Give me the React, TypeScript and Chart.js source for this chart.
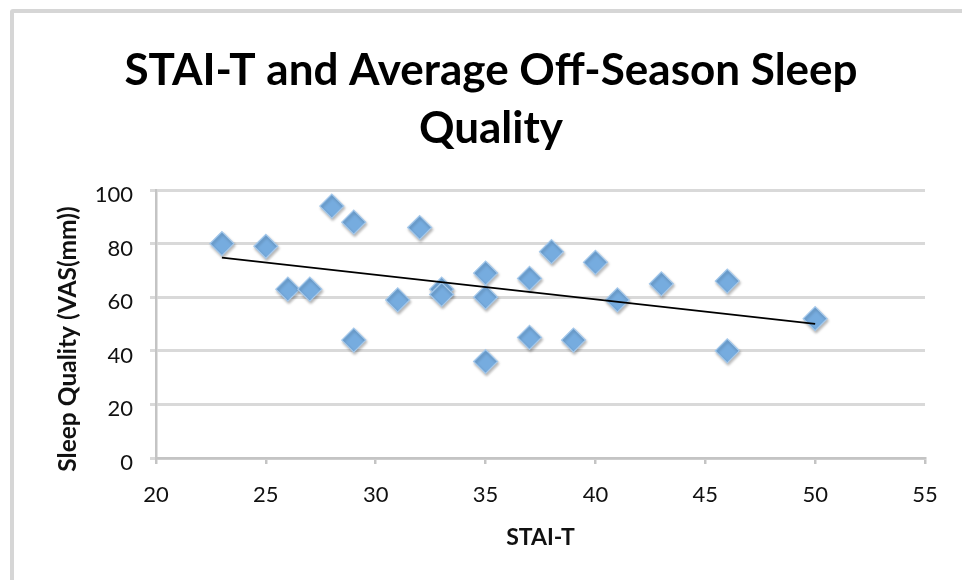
import { useEffect, useRef } from "react";
import { Chart, registerables } from "chart.js";

Chart.register(...registerables);

// STAI-T score for each athlete and their average off-season sleep quality (VAS, mm)
const staiT = [23, 25, 26, 27, 28, 29, 29, 31, 32, 33, 33, 35, 35, 35, 37, 37, 38, 39, 40, 41, 43, 46, 46, 50];
const sleepQuality = [80, 79, 63, 63, 94, 88, 44, 59, 86, 63, 61, 69, 60, 36, 67, 45, 77, 44, 73, 59, 65, 66, 40, 52];

const titleLines = ["STAI-T and Average Off-Season Sleep", "Quality"];
const xAxisTitle = "STAI-T";
const yAxisTitle = "Sleep Quality (VAS(mm))";

const xRange = { min: 20, max: 55, step: 5 };
const yRange = { min: 0, max: 100, step: 20 };

const FONT = 'Lato, "Noto Sans", "DejaVu Sans", sans-serif';

// Least-squares linear trend over the observed range of x
function linearTrend(xs: number[], ys: number[]) {
  const n = xs.length;
  const mx = xs.reduce((a, b) => a + b, 0) / n;
  const my = ys.reduce((a, b) => a + b, 0) / n;
  let sxy = 0;
  let sxx = 0;
  for (let i = 0; i < n; i++) {
    sxy += (xs[i] - mx) * (ys[i] - my);
    sxx += (xs[i] - mx) * (xs[i] - mx);
  }
  const slope = sxy / sxx;
  const intercept = my - slope * mx;
  const x0 = Math.min(...xs);
  const x1 = Math.max(...xs);
  return [
    { x: x0, y: intercept + slope * x0 },
    { x: x1, y: intercept + slope * x1 },
  ];
}

// Two-line heading centred over the whole chart frame
const headingPlugin = {
  id: "heading",
  afterDraw(chart: any) {
    const { ctx } = chart;
    ctx.save();
    ctx.font = `bold 44px ${FONT}`;
    ctx.fillStyle = "#000";
    ctx.textAlign = "center";
    ctx.textBaseline = "alphabetic";
    const cx = 491;
    titleLines.forEach((line, i) => ctx.fillText(line, cx, 85 + i * 58));
    ctx.restore();
  },
};

// Rotated y-axis caption, drawn beside the tick labels
const yTitlePlugin = {
  id: "yTitle",
  afterDraw(chart: any) {
    const { ctx, chartArea } = chart;
    ctx.save();
    ctx.font = `bold 24.5px ${FONT}`;
    ctx.fillStyle = "#111";
    ctx.textAlign = "center";
    ctx.textBaseline = "middle";
    ctx.translate(chartArea.left - 88, (chartArea.top + chartArea.bottom) / 2 + 15);
    ctx.rotate(-Math.PI / 2);
    ctx.fillText(yAxisTitle, 0, 0);
    ctx.restore();
  },
};

// Soft drop shadow under the diamond markers
const markerShadowPlugin = {
  id: "markerShadow",
  beforeDatasetDraw(chart: any, args: any) {
    if (args.meta.type !== "scatter") return;
    const ctx = chart.ctx;
    ctx.save();
    ctx.shadowColor = "rgba(0,0,0,0.28)";
    ctx.shadowBlur = 3;
    ctx.shadowOffsetX = 1;
    ctx.shadowOffsetY = 2;
  },
  afterDatasetDraw(chart: any, args: any) {
    if (args.meta.type !== "scatter") return;
    chart.ctx.restore();
  },
};

export default function App() {
  const canvasRef = useRef<HTMLCanvasElement | null>(null);

  useEffect(() => {
    const canvas = canvasRef.current;
    if (!canvas) return;
    const points = staiT.map((x, i) => ({ x, y: sleepQuality[i] }));
    const trend = linearTrend(staiT, sleepQuality);

    const chart = new Chart(canvas, {
      type: "scatter",
      data: {
        datasets: [
          {
            type: "line",
            label: "Linear trend",
            data: trend,
            borderColor: "#000",
            borderWidth: 1.8,
            pointRadius: 0,
            fill: false,
            order: 0,
          } as any,
          {
            type: "scatter",
            label: "Sleep quality",
            data: points,
            pointStyle: "rectRot",
            pointRadius: 12,
            pointBackgroundColor: "#76acdf",
            pointBorderColor: "#a6c9eb",
            pointBorderWidth: 1.2,
            order: 1,
          },
        ],
      },
      options: {
        responsive: false,
        animation: false,
        devicePixelRatio: 1,
        layout: { padding: { left: 0, right: 37, top: 190, bottom: 0 } },
        plugins: {
          legend: { display: false },
          tooltip: { enabled: false },
          title: { display: false },
        },
        scales: {
          x: {
            type: "linear",
            min: xRange.min,
            max: xRange.max,
            ticks: {
              stepSize: xRange.step,
              color: "#111",
              font: { family: FONT, size: 22 },
              padding: 18,
              maxRotation: 0,
            },
            grid: {
              drawOnChartArea: false,
              drawTicks: true,
              tickLength: 6,
              color: "#c4c4c4",
              lineWidth: 2.5,
            },
            border: { color: "#c4c4c4", width: 2.5 },
            title: {
              display: true,
              text: xAxisTitle,
              color: "#111",
              font: { family: FONT, size: 23, weight: "bold" },
              padding: { top: 0, bottom: 29 },
            },
            afterFit(scale: any) {
              scale.height = 122;
            },
          },
          y: {
            type: "linear",
            min: yRange.min,
            max: yRange.max,
            ticks: {
              stepSize: yRange.step,
              color: "#111",
              font: { family: FONT, size: 22 },
              padding: 17,
              labelOffset: 5,
            },
            grid: {
              drawTicks: true,
              tickLength: 6,
              color: "#d9d9d9",
              lineWidth: 3,
            },
            border: { color: "#c4c4c4", width: 2.5 },
            afterFit(scale: any) {
              scale.width = 156;
            },
          },
        },
      },
      plugins: [headingPlugin, yTitlePlugin, markerShadowPlugin],
    });

    return () => chart.destroy();
  }, []);

  return (
    <div
      style={{
        position: "absolute",
        left: 0,
        top: 0,
        width: 962,
        height: 580,
        background: "#fff",
        overflow: "hidden",
      }}
    >
      <div
        style={{
          position: "absolute",
          left: 10,
          top: 9,
          width: 980,
          height: 600,
          border: "4px solid #d6d6d6",
          borderRadius: 3,
          boxSizing: "border-box",
        }}
      />
      <canvas
        ref={canvasRef}
        width={962}
        height={580}
        style={{ position: "absolute", left: 0, top: 0, width: 962, height: 580 }}
      />
    </div>
  );
}
